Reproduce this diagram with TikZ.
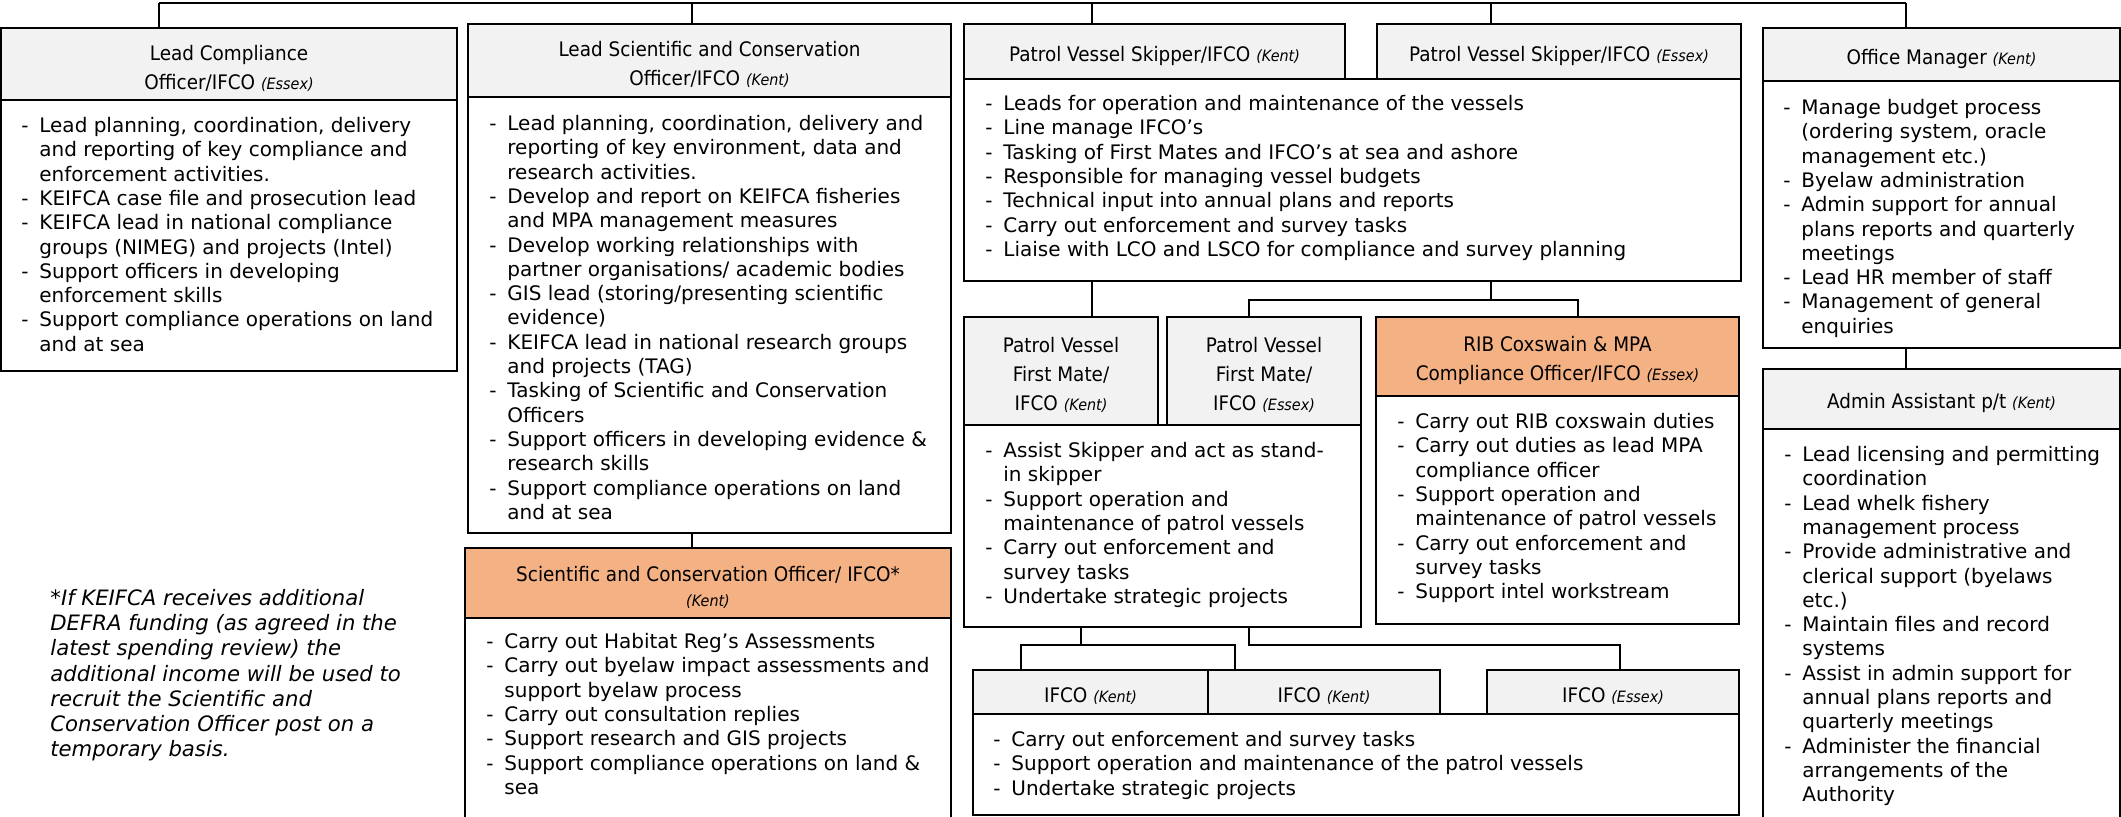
\documentclass[tikz,border=0pt]{standalone}
\usepackage{fontspec}
\setmainfont{DejaVu Sans}
\newfontfamily\hdrfont[FakeStretch=0.92]{DejaVu Sans}
\usetikzlibrary{positioning,fit}
\definecolor{hdrgray}{HTML}{F2F2F2}
\definecolor{hdrorange}{HTML}{F4B183}
\newcommand{\loc}[1]{{\fontsize{7.8}{9}\selectfont\itshape(#1)}}
\newcommand{\itm}{\makebox[9pt][l]{-}}
\newcommand{\cnt}{\hspace*{9pt}}

\begin{document}
\begin{tikzpicture}[x=0.5pt, y=-0.5pt,
    hdr/.style={draw, line width=1.1pt, fill=hdrgray, inner sep=0pt},
    hdrnew/.style={hdr, fill=hdrorange},
    hdrtxt/.style={inner sep=0pt, yshift=-2pt, align=center, font={\hdrfont\fontsize{10}{14.5}\selectfont}},
    bodybox/.style={draw, line width=1.1pt, fill=white, inner sep=0pt},
    txt/.style={anchor=north west, inner sep=0pt, align=left, font={\fontsize{10}{12.15}\selectfont}},
    conn/.style={line width=0.75pt}
]
\useasboundingbox (0,0) rectangle (2121,817);

% lead compliance officer
\node[hdr, fit={(1,28) (457,100)}] (lcoH) {};
\node[hdrtxt] (lcoL) at (lcoH.center) {Lead Compliance\\Officer/IFCO \loc{Essex}};
\node[bodybox, fit={(1,100) (457,371)}] (lcoB) {};
\node[txt] (lcoT) at (21,117) {\itm Lead planning, coordination, delivery\\ \cnt and reporting of key compliance and\\ \cnt enforcement activities.\\ \itm KEIFCA case file and prosecution lead\\ \itm KEIFCA lead in national compliance\\ \cnt groups (NIMEG) and projects (Intel)\\ \itm Support officers in developing\\ \cnt enforcement skills\\ \itm Support compliance operations on land\\ \cnt and at sea};

% lead scientific and conservation officer
\node[hdr, fit={(468,24) (951,97)}] (lscoH) {};
\node[hdrtxt] (lscoL) at (lscoH.center) {Lead Scientific and Conservation\\Officer/IFCO \loc{Kent}};
\node[bodybox, fit={(468,97) (951,533)}] (lscoB) {};
\node[txt] (lscoT) at (489,115) {\itm Lead planning, coordination, delivery and\\ \cnt reporting of key environment, data and\\ \cnt research activities.\\ \itm Develop and report on KEIFCA fisheries\\ \cnt and MPA management measures\\ \itm Develop working relationships with\\ \cnt partner organisations/ academic bodies\\ \itm GIS lead (storing/presenting scientific\\ \cnt evidence)\\ \itm KEIFCA lead in national research groups\\ \cnt and projects (TAG)\\ \itm Tasking of Scientific and Conservation\\ \cnt Officers\\ \itm Support officers in developing evidence \&\\ \cnt research skills\\ \itm Support compliance operations on land\\ \cnt and at sea};

% scientific and conservation officer
\node[hdrnew, fit={(465,548) (951,618)}] (sciH) {};
\node[hdrtxt] (sciL) at (sciH.center) {Scientific and Conservation Officer/ IFCO*\\[-2pt]\loc{Kent}};
\node[bodybox, fit={(465,618) (951,820)}] (sciB) {};
\node[txt] (sciT) at (486,633) {\itm Carry out Habitat Reg’s Assessments\\ \itm Carry out byelaw impact assessments and\\ \cnt support byelaw process\\ \itm Carry out consultation replies\\ \itm Support research and GIS projects\\ \itm Support compliance operations on land \&\\ \cnt sea};

% patrol vessel skippers
\node[hdr, fit={(964,24) (1345,79)}] (skK) {};
\node[hdrtxt] (skKL) at (skK.center) {Patrol Vessel Skipper/IFCO \loc{Kent}};
\node[hdr, fit={(1377,24) (1741,79)}] (skE) {};
\node[hdrtxt] (skEL) at (skE.center) {Patrol Vessel Skipper/IFCO \loc{Essex}};
\node[bodybox, fit={(964,79) (1741,281)}] (skB) {};
\node[txt] (skT) at (985,95) {\itm Leads for operation and maintenance of the vessels\\ \itm Line manage IFCO’s\\ \itm Tasking of First Mates and IFCO’s at sea and ashore\\ \itm Responsible for managing vessel budgets\\ \itm Technical input into annual plans and reports\\ \itm Carry out enforcement and survey tasks\\ \itm Liaise with LCO and LSCO for compliance and survey planning};

% office manager
\node[hdr, fit={(1763,28) (2120,81)}] (omH) {};
\node[hdrtxt] (omL) at (omH.center) {Office Manager \loc{Kent}};
\node[bodybox, fit={(1763,81) (2120,348)}] (omB) {};
\node[txt] (omT) at (1783,99) {\itm Manage budget process\\ \cnt (ordering system, oracle\\ \cnt management etc.)\\ \itm Byelaw administration\\ \itm Admin support for annual\\ \cnt plans reports and quarterly\\ \cnt meetings\\ \itm Lead HR member of staff\\ \itm Management of general\\ \cnt enquiries};

% admin assistant
\node[hdr, fit={(1763,369) (2120,429)}] (admH) {};
\node[hdrtxt] (admL) at (admH.center) {Admin Assistant p/t \loc{Kent}};
\node[bodybox, fit={(1763,429) (2120,820)}] (admB) {};
\node[txt] (admT) at (1784,446) {\itm Lead licensing and permitting\\ \cnt coordination\\ \itm Lead whelk fishery\\ \cnt management process\\ \itm Provide administrative and\\ \cnt clerical support (byelaws\\ \cnt etc.)\\ \itm Maintain files and record\\ \cnt systems\\ \itm Assist in admin support for\\ \cnt annual plans reports and\\ \cnt quarterly meetings\\ \itm Administer the financial\\ \cnt arrangements of the\\ \cnt Authority};

% first mates
\node[hdr, fit={(964,317) (1158,425)}] (fmK) {};
\node[hdrtxt] (fmKL) at (fmK.center) {Patrol Vessel\\First Mate/\\IFCO \loc{Kent}};
\node[hdr, fit={(1167,317) (1361,425)}] (fmE) {};
\node[hdrtxt] (fmEL) at (fmE.center) {Patrol Vessel\\First Mate/\\IFCO \loc{Essex}};
\node[bodybox, fit={(964,425) (1361,627)}] (fmB) {};
\node[txt] (fmT) at (985,442) {\itm Assist Skipper and act as stand-\\ \cnt in skipper\\ \itm Support operation and\\ \cnt maintenance of patrol vessels\\ \itm Carry out enforcement and\\ \cnt survey tasks\\ \itm Undertake strategic projects};

% rib coxswain
\node[hdrnew, fit={(1376,317) (1739,396)}] (ribH) {};
\node[hdrtxt] (ribL) at (ribH.center) {RIB Coxswain \& MPA\\Compliance Officer/IFCO \loc{Essex}};
\node[bodybox, fit={(1376,396) (1739,624)}] (ribB) {};
\node[txt] (ribT) at (1397,413) {\itm Carry out RIB coxswain duties\\ \itm Carry out duties as lead MPA\\ \cnt compliance officer\\ \itm Support operation and\\ \cnt maintenance of patrol vessels\\ \itm Carry out enforcement and\\ \cnt survey tasks\\ \itm Support intel workstream};

% ifcos
\node[hdr, fit={(973,670) (1208,714)}] (ifK1) {};
\node[hdrtxt] (ifK1L) at (ifK1.center) {IFCO \loc{Kent}};
\node[hdr, fit={(1208,670) (1440,714)}] (ifK2) {};
\node[hdrtxt] (ifK2L) at (ifK2.center) {IFCO \loc{Kent}};
\node[hdr, fit={(1487,670) (1739,714)}] (ifE) {};
\node[hdrtxt] (ifEL) at (ifE.center) {IFCO \loc{Essex}};
\node[bodybox, fit={(973,714) (1739,815)}] (ifB) {};
\node[txt] (ifT) at (993,731) {\itm Carry out enforcement and survey tasks\\ \itm Support operation and maintenance of the patrol vessels\\ \itm Undertake strategic projects};

% footnote
\node[txt, font={\itshape\fontsize{10.6}{12.6}\selectfont}] (note) at (50,589) {*If KEIFCA receives additional\\DEFRA funding (as agreed in the\\latest spending review) the\\additional income will be used to\\recruit the Scientific and\\Conservation Officer post on a\\temporary basis.};

% connectors
\coordinate (t1) at (159,3);
\coordinate (t2) at (692,3);
\coordinate (t3) at (1092,3);
\coordinate (t4) at (1491,3);
\coordinate (t5) at (1906,3);
\draw[conn] (t1) -- (t5);
\foreach \c/\n in {t1/lcoH, t2/lscoH, t3/skK, t4/skE, t5/omH}
  \draw[conn] (\c) -- (\c |- \n.north);
\draw[conn] (t2 |- lscoB.south) -- (t2 |- sciH.north);
\draw[conn] (t5 |- omB.south) -- (t5 |- admH.north);
\draw[conn] (t3 |- skB.south) -- (t3 |- fmK.north);
\coordinate (m1) at (1249,300);
\coordinate (m2) at (1578,300);
\draw[conn] (t4 |- skB.south) -- (t4 |- m1);
\draw[conn] (m1 |- fmE.north) -- (m1) -- (m2) -- (m2 |- ribH.north);
\coordinate (b0) at (1081,645);
\coordinate (b1) at (1021,645);
\coordinate (b2) at (1235,645);
\coordinate (b3) at (1249,645);
\coordinate (b4) at (1620,645);
\draw[conn] (b0 |- fmB.south) -- (b0);
\draw[conn] (b1 |- ifK1.north) -- (b1) -- (b2) -- (b2 |- ifK2.north);
\draw[conn] (b3 |- fmB.south) -- (b3) -- (b4) -- (b4 |- ifE.north);
\end{tikzpicture}
\end{document}
